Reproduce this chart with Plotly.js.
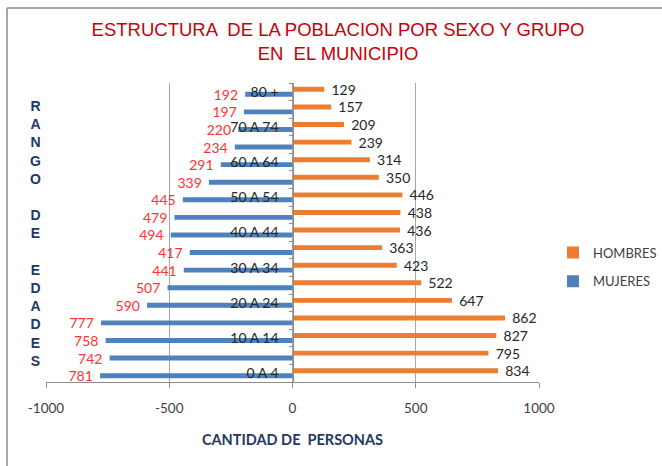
<!DOCTYPE html>
<html>
<head>
<meta charset="utf-8">
<script src="https://cdn.plot.ly/plotly-3.0.1.min.js"></script>
<style>
  html, body { margin: 0; padding: 0; background: #ffffff; }
  #chart { width: 662px; height: 466px; }
</style>
</head>
<body>
<div id="chart"></div>
<script>
// ---- data (bottom to top) ----
const categories = ['0 A 4', '5 A 9', '10 A 14', '15 A 19', '20 A 24', '25 A 29', '30 A 34', '35 A 39',
  '40 A 44', '45 A 49', '50 A 54', '55 A 59', '60 A 64', '65 A 69', '70 A 74', '75 A 79', '80 +'];
const hombres = [834, 795, 827, 862, 647, 522, 423, 363, 436, 438, 446, 350, 314, 239, 209, 157, 129];
const mujeres = [781, 742, 758, 777, 590, 507, 441, 417, 494, 479, 445, 339, 291, 234, 220, 197, 192];
const xTickVals = [-1000, -500, 0, 500, 1000];
const seriesNames = ['HOMBRES', 'MUJERES'];

const NB = '\u00a0';

const traceMujeres = {
  type: 'bar',
  orientation: 'h',
  name: seriesNames[1],
  legendgroup: 'm',
  legendrank: 2,
  y: categories,
  x: mujeres.map(v => -v),
  text: mujeres.map(v => String(v) + NB + NB),
  textposition: 'outside',
  constraintext: 'none',
  cliponaxis: false,
  textfont: { family: 'Lato, sans-serif', size: 14, color: '#ff3333' },
  marker: { color: '#4f81bd' },
  hoverinfo: 'skip'
};
const traceHombres = {
  type: 'bar',
  orientation: 'h',
  name: seriesNames[0],
  legendgroup: 'h',
  legendrank: 1,
  y: categories,
  x: hombres,
  text: hombres.map(v => NB + NB + String(v)),
  textposition: 'outside',
  constraintext: 'none',
  cliponaxis: false,
  textfont: { family: 'Lato, sans-serif', size: 14, color: '#262626' },
  marker: { color: '#ed7d31' },
  hoverinfo: 'skip'
};

// plot area geometry helpers (paper coords)
const L = 46, R = 123, T = 83, B = 84, W = 662, H = 466;
const pw = W - L - R, ph = H - T - B;
const px = x => (x - L) / pw;
const py = y => (H - B - y) / ph;

const layout = {
  width: W,
  height: H,
  margin: { l: L, r: R, t: T, b: B, pad: 0, autoexpand: false },
  paper_bgcolor: '#ffffff',
  plot_bgcolor: '#ffffff',
  barmode: 'group',
  bargap: 0.44,
  bargroupgap: 0,
  title: {
    text: 'ESTRUCTURA  DE LA POBLACION POR SEXO Y GRUPO<br>EN  EL MUNICIPIO',
    font: { family: '"Liberation Sans", Arial, sans-serif', size: 18.5, color: '#c8000a' },
    xref: 'container', x: 338 / W, xanchor: 'center',
    yref: 'container', y: 1 - 36 / H, yanchor: 'top'
  },
  xaxis: {
    range: [-1000, 1000],
    tickmode: 'array',
    tickvals: xTickVals,
    ticktext: xTickVals.map(v => String(v)),
    showgrid: true,
    gridcolor: '#a6a6a6',
    gridwidth: 1,
    zeroline: false,
    showline: true,
    linecolor: '#8c8c8c',
    linewidth: 1,
    ticks: 'outside',
    ticklen: 5,
    tickcolor: '#8c8c8c',
    ticklabelstandoff: 9,
    tickfont: { family: 'Lato, sans-serif', size: 13.5, color: '#404040' },
    title: {
      text: 'CANTIDAD DE  PERSONAS',
      font: { family: 'Lato, sans-serif', size: 14.5, color: '#1f3864', weight: 'bold' },
      standoff: 19
    },
    fixedrange: true
  },
  yaxis: {
    type: 'category',
    categoryorder: 'array',
    categoryarray: categories,
    range: [-0.5, categories.length - 0.5],
    anchor: 'free',
    position: 0.5,
    showline: true,
    linecolor: '#8c8c8c',
    linewidth: 1,
    showgrid: false,
    zeroline: false,
    tickmode: 'array',
    tickvals: categories,
    ticktext: categories.map((c, i) => (i % 2 === 0 ? c + NB + NB : '')),
    ticks: 'outside',
    tickson: 'boundaries',
    ticklen: 4,
    tickcolor: '#8c8c8c',
    ticklabelstandoff: 4,
    tickfont: { family: 'Lato, sans-serif', size: 14, color: '#262626' },
    fixedrange: true
  },
  legend: {
    x: px(553), xanchor: 'left',
    y: py(267), yanchor: 'middle',
    traceorder: 'grouped',
    tracegroupgap: 9,
    font: { family: 'Lato, sans-serif', size: 13, color: '#404040' },
    bgcolor: 'rgba(0,0,0,0)',
    borderwidth: 0
  },
  annotations: [{
    xref: 'paper', yref: 'paper',
    x: px(35), y: py(233),
    xanchor: 'center', yanchor: 'middle',
    showarrow: false,
    align: 'center',
    text: ['R', 'A', 'N', 'G', 'O', NB, 'D', 'E', NB, 'E', 'D', 'A', 'D', 'E', 'S'].join('<br>'),
    font: { family: '"Liberation Sans", Arial, sans-serif', size: 14, color: '#1f3864', weight: 'bold' }
  }],
  shapes: [
    { type: 'line', xref: 'paper', yref: 'paper', x0: px(7), x1: px(670), y0: py(8), y1: py(8),
      line: { color: '#8c8c8c', width: 1.5 } },
    { type: 'line', xref: 'paper', yref: 'paper', x0: px(7), x1: px(7), y0: py(8), y1: py(470),
      line: { color: '#8c8c8c', width: 1.5 } }
  ],
  showlegend: true
};

Plotly.newPlot('chart', [traceMujeres, traceHombres], layout, { displayModeBar: false, staticPlot: true });
</script>
</body>
</html>
